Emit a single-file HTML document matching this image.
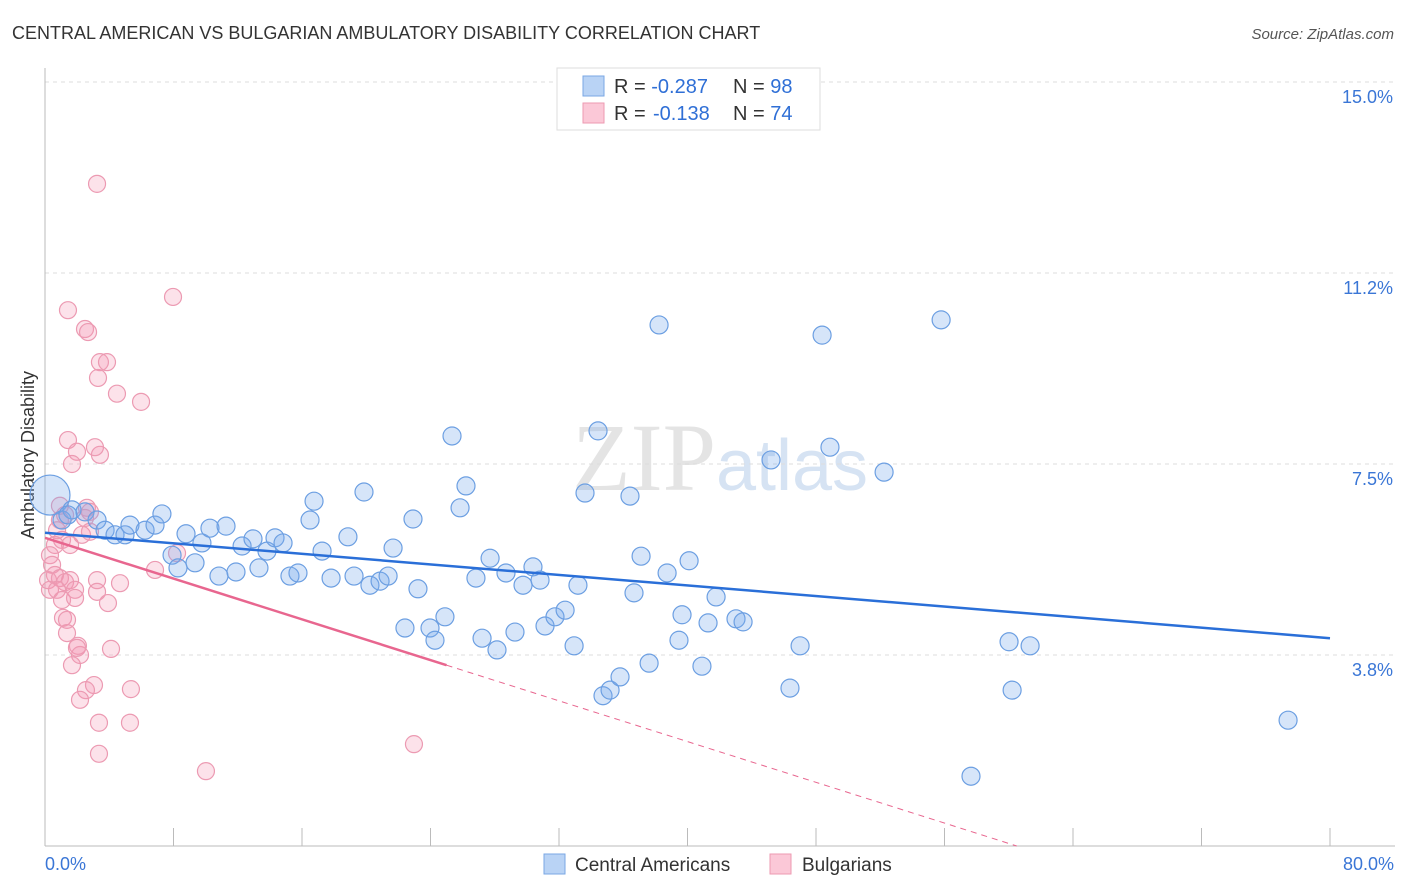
<!DOCTYPE html>
<html><head><meta charset="utf-8"><style>
body{margin:0;background:#fff;font-family:"Liberation Sans",sans-serif;}
svg{display:block}
</style></head><body>
<svg id="chart" width="1406" height="892">
<text x="12" y="39" font-size="18" fill="#333">CENTRAL AMERICAN VS BULGARIAN AMBULATORY DISABILITY CORRELATION CHART</text>
<text x="1394" y="39" font-size="15" fill="#555" font-style="italic" text-anchor="end">Source: ZipAtlas.com</text>
<text x="720" y="490" font-size="96" fill="#e4e4e4" text-anchor="middle" font-family="Liberation Serif">ZIP<tspan font-family="Liberation Sans" font-size="72" fill="#d6e3f3">atlas</tspan></text>
<text transform="translate(34,455) rotate(-90)" font-size="18" fill="#333" text-anchor="middle">Ambulatory Disability</text>
<g id="grid"></g><g id="marks"></g>
<g>
<rect x="557" y="68" width="263" height="62" fill="#fff" stroke="#ddd"/>
<rect x="583" y="76" width="21" height="20" fill="#b9d3f5" stroke="#7aa7e4"/>
<rect x="583" y="103" width="21" height="20" fill="#fbc8d7" stroke="#ec9ab2"/>
<text x="614" y="93" font-size="20" fill="#333">R = <tspan fill="#2f6fd6">-0.287</tspan><tspan x="733">N = </tspan><tspan fill="#2f6fd6">98</tspan></text>
<text x="614" y="120" font-size="20" fill="#333">R = <tspan fill="#2f6fd6" x="653">-0.138</tspan><tspan x="733">N = </tspan><tspan fill="#2f6fd6">74</tspan></text>
</g>
<g>
<rect x="544" y="854" width="21" height="20" fill="#b9d3f5" stroke="#7aa7e4"/>
<text x="575" y="871" font-size="19" fill="#333">Central Americans</text>
<rect x="770" y="854" width="21" height="20" fill="#fbc8d7" stroke="#ec9ab2"/>
<text x="802" y="871" font-size="19" fill="#333">Bulgarians</text>
</g>
</svg>
<script>
const yTicks=[3.75,7.5,11.25,15];
const yTickLabels=["3.8%","7.5%","11.2%","15.0%"];
const xTickLabels=["0.0%","80.0%"];
const blueX=[0.31,1.06,1.68,1.43,2.49,3.24,3.74,4.36,4.98,5.29,6.23,6.85,7.28,7.91,8.28,8.78,9.34,9.77,10.27,10.83,11.27,11.89,12.27,12.95,13.32,13.82,14.32,14.82,15.25,15.75,16.5,16.75,17.25,17.81,18.86,19.24,19.86,20.23,20.86,21.36,21.67,22.41,22.91,23.22,23.97,24.28,24.9,25.34,25.84,26.21,26.83,27.21,27.71,28.14,28.7,29.26,29.76,30.38,30.82,31.13,31.75,32.38,32.94,33.18,33.62,34.43,34.74,35.18,35.8,36.42,36.67,37.11,37.61,38.23,38.73,39.47,39.66,40.1,40.9,41.28,41.78,43.02,43.46,45.2,46.38,47.01,48.38,48.87,52.24,55.79,57.65,60.02,60.21,61.33,77.39];
const blueY=[6.89,6.4,6.6,6.5,6.56,6.4,6.2,6.11,6.11,6.3,6.2,6.3,6.52,5.71,5.46,6.13,5.56,5.95,6.24,5.3,6.28,5.38,5.89,6.03,5.46,5.79,6.05,5.95,5.3,5.36,6.4,6.77,5.79,5.26,6.07,5.3,6.95,5.12,5.2,5.3,5.85,4.28,6.42,5.05,4.28,4.04,4.5,8.05,6.64,7.07,5.26,4.08,5.65,3.85,5.36,4.2,5.12,5.48,5.22,4.32,4.5,4.63,3.93,5.12,6.93,8.15,2.95,3.06,3.32,6.87,4.97,5.69,3.59,10.23,5.36,4.04,4.54,5.6,3.53,4.38,4.89,4.46,4.4,7.58,3.1,3.93,10.03,7.83,7.34,10.33,1.37,4.01,3.06,3.93,2.47];
const pinkX=[3.24,1.43,2.49,2.68,7.97,3.42,3.86,3.3,4.48,5.98,1.43,1.99,3.42,3.11,1.68,2.61,0.93,1.25,0.75,1.06,0.62,1.56,2.3,2.8,8.22,6.85,0.31,0.44,0.62,0.19,0.93,1.25,1.56,0.31,0.75,1.06,1.87,1.87,3.24,3.24,4.67,3.92,1.12,1.37,1.37,2.05,2.18,1.99,4.11,1.68,3.05,2.55,5.35,2.18,3.36,5.29,3.36,10.02,22.97,0.93,2.8,2.49];
const pinkY=[13.0,10.52,10.15,10.09,10.78,9.5,9.5,9.19,8.88,8.72,7.97,7.74,7.68,7.83,7.5,6.64,6.4,6.5,6.2,6.01,5.91,5.91,6.11,6.17,5.75,5.42,5.71,5.52,5.32,5.22,5.26,5.18,5.22,5.03,5.03,4.83,5.03,4.87,5.22,4.99,5.16,4.77,4.48,4.44,4.18,3.93,3.75,3.89,3.87,3.55,3.16,3.06,3.08,2.87,2.42,2.42,1.81,1.47,2.0,6.68,6.56,6.44];
const blueTrend=[6.15,4.08];   // y at x=0 and x=80
const pinkTrend=[6.05,-1.95];  // y at x=0 and x=80
const pinkSolidEnd=25.0;
const X0=45,X1=1330,YB=846,YT=82;
const sx=v=>X0+v/80*(X1-X0);
const sy=v=>YB-v/15*(YB-YT);
const NS="http://www.w3.org/2000/svg";
const grid=document.getElementById('grid'),marks=document.getElementById('marks');
function mk(tag,attrs,parent){const e=document.createElementNS(NS,tag);for(const k in attrs)e.setAttribute(k,attrs[k]);parent.appendChild(e);return e;}
yTicks.forEach((t,i)=>{
  const l=mk('line',{x1:X0,x2:1395,y1:sy(t),y2:sy(t),stroke:'#ddd','stroke-dasharray':'4,4'},grid);
  
  
  const tx=mk('text',{x:1393,y:sy(t)+21,'font-size':18,fill:'#3a76d6','text-anchor':'end'},grid);
  tx.textContent=yTickLabels[i];
  
  
});
const ax=mk('line',{x1:X0,x2:X0,y1:68,y2:YB,stroke:'#bbb'},grid);


const bx=mk('line',{x1:X0,x2:1395,y1:YB,y2:YB,stroke:'#bbb'},grid);


for(let i=0;i<=10;i++){
  const tk=mk('line',{x1:sx(i*8),x2:sx(i*8),y1:828,y2:YB,stroke:'#bbb'},grid);
  
  
}
const xl0=mk('text',{x:45,y:870,'font-size':18,fill:'#3a76d6'},grid);xl0.textContent=xTickLabels[0];


const xl1=mk('text',{x:1394,y:870,'font-size':18,fill:'#3a76d6','text-anchor':'end'},grid);xl1.textContent=xTickLabels[1];


pinkX.forEach((x,i)=>{
  const c=mk('circle',{cx:sx(x),cy:sy(pinkY[i]),r:8.5,fill:'rgba(244,150,180,0.28)',stroke:'#ec9ab2','stroke-width':1.2},marks);
  
  
});
blueX.forEach((x,i)=>{
  const c=mk('circle',{cx:sx(x),cy:sy(blueY[i]),r:i===0?20:9,fill:'rgba(120,170,235,0.3)',stroke:'#6c9fe2','stroke-width':1.2},marks);
  
  
});
const bt=mk('line',{x1:sx(0),y1:sy(blueTrend[0]),x2:sx(80),y2:sy(blueTrend[1]),stroke:'#2a6fd8','stroke-width':2.5},marks);


const py=x=>pinkTrend[0]+(pinkTrend[1]-pinkTrend[0])*x/80;
const ps=mk('line',{x1:sx(0),y1:sy(py(0)),x2:sx(pinkSolidEnd),y2:sy(py(pinkSolidEnd)),stroke:'#e8668f','stroke-width':2.5},marks);


const xz=-pinkTrend[0]*80/(pinkTrend[1]-pinkTrend[0]);
const pd=mk('line',{x1:sx(pinkSolidEnd),y1:sy(py(pinkSolidEnd)),x2:sx(xz),y2:sy(0),stroke:'#e8668f','stroke-width':1,'stroke-dasharray':'6,5'},marks);


</script>
</body></html>
